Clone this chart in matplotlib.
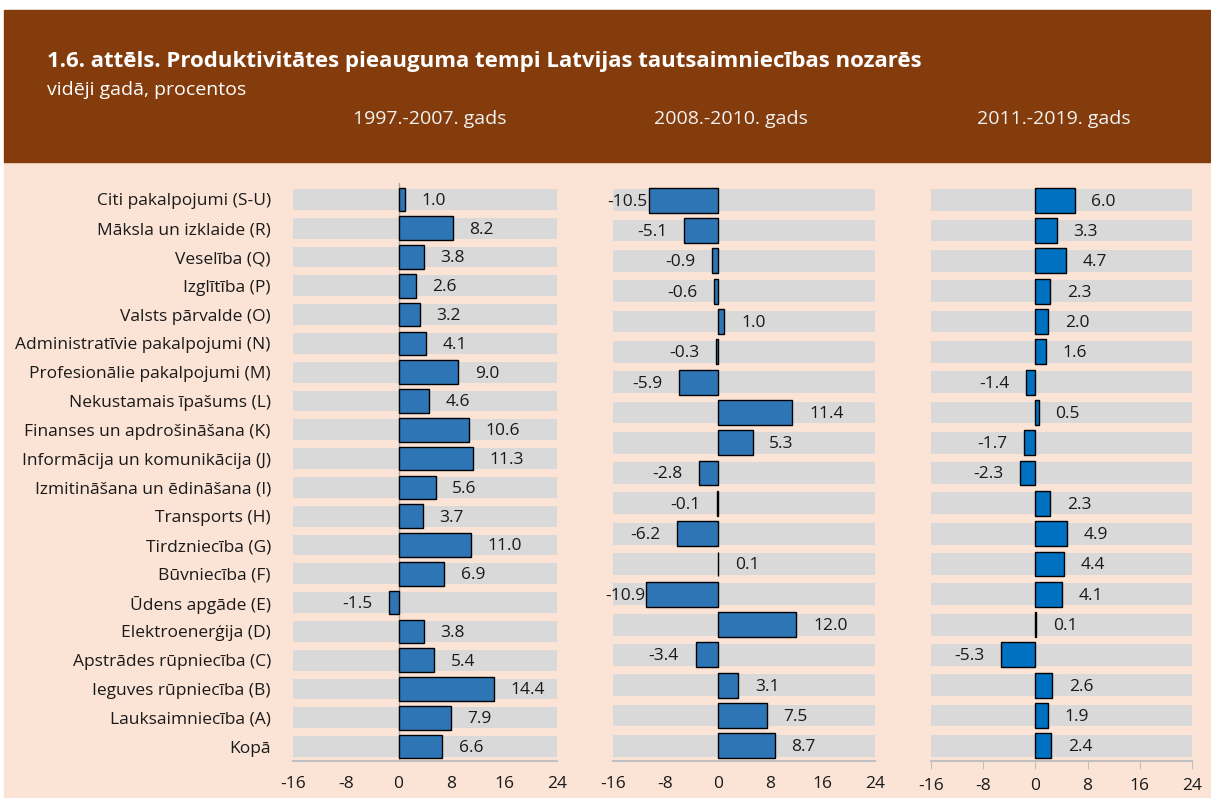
import matplotlib.pyplot as plt
from matplotlib.patches import Rectangle
import numpy as np

plt.rcParams['font.family'] = ['Open Sans', 'DejaVu Sans']

# categories, top to bottom
categories = ['Citi pakalpojumi (S-U)', 'Māksla un izklaide (R)', 'Veselība (Q)',
              'Izglītība (P)', 'Valsts pārvalde (O)', 'Administratīvie pakalpojumi (N)',
              'Profesionālie pakalpojumi (M)', 'Nekustamais īpašums (L)',
              'Finanses un apdrošināšana (K)', 'Informācija un komunikācija (J)',
              'Izmitināšana un ēdināšana (I)', 'Transports (H)', 'Tirdzniecība (G)',
              'Būvniecība (F)', 'Ūdens apgāde (E)', 'Elektroenerģija (D)',
              'Apstrādes rūpniecība (C)', 'Ieguves rūpniecība (B)',
              'Lauksaimniecība (A)', 'Kopā']

p1997 = [1.0, 8.2, 3.8, 2.6, 3.2, 4.1, 9.0, 4.6, 10.6, 11.3, 5.6, 3.7, 11.0, 6.9,
         -1.5, 3.8, 5.4, 14.4, 7.9, 6.6]
# the two later panels show only 19 rows in the original
p2008 = [-10.5, -5.1, -0.9, -0.6, 1.0, -0.3, -5.9, 11.4, 5.3, -2.8, -0.1, -6.2,
         0.1, -10.9, 12.0, -3.4, 3.1, 7.5, 8.7]
p2011 = [6.0, 3.3, 4.7, 2.3, 2.0, 1.6, -1.4, 0.5, -1.7, -2.3, 2.3, 4.9, 4.4, 4.1,
         0.1, -5.3, 2.6, 1.9, 2.4]

panel_titles = ['1997.-2007. gads', '2008.-2010. gads', '2011.-2019. gads']
xticks = [-16, -8, 0, 8, 16, 24]

W, H = 1211, 798
brown = '#843C0C'
peach = '#FBE3D6'
gray = '#D9D9D9'
txt = '#1a1a1a'

fig = plt.figure(figsize=(W / 100, H / 100), dpi=100)
fig.patch.set_facecolor('white')

def px(x0, y0, x1, y1):
    # pixel box (top-left origin) -> figure fraction
    return [x0 / W, 1 - y1 / H, (x1 - x0) / W, (y1 - y0) / H]

b = px(4, 162, W, H)
fig.patches.append(Rectangle((b[0], b[1]), b[2], b[3], transform=fig.transFigure,
                             color=peach, zorder=-10))
b = px(4, 10, W, 162)
fig.patches.append(Rectangle((b[0], b[1]), b[2], b[3], transform=fig.transFigure,
                             color=brown, zorder=-10))

fig.text(47 / W, 1 - 61 / H,
         '1.6. attēls. Produktivitātes pieauguma tempi Latvijas tautsaimniecības nozarēs',
         color='white', fontsize=16, fontweight='bold', va='center', ha='left')
fig.text(47 / W, 1 - 90 / H, 'vidēji gadā, procentos', color='white', fontsize=14,
         va='center', ha='left')

panels = [(293, 557, p1997, '#2E75B6'),
          (613, 875, p2008, '#2E75B6'),
          (931, 1192, p2011, '#0070C0')]
title_x = [430, 731, 1054]

for i, (x0, x1, vals, color) in enumerate(panels):
    ax = fig.add_axes(px(x0, 183, x1, 761))
    ax.set_facecolor('none')
    n = len(vals)
    y = np.arange(n)[::-1]
    ax.barh(y, 40, left=-16, height=0.72, color=gray, zorder=1)
    if i == 0:
        ax.axvline(0, color='#A6A6A6', lw=1, zorder=1.5)
    ax.barh(y, vals, height=0.82, color=color, edgecolor='black', lw=1, zorder=2)
    for yy, v in zip(y, vals):
        if v >= 0:
            off, ha = 12, 'left'
        else:
            # long negative labels are pulled in so they stay inside the panel
            off, ha = (-1 if v < -9 else -12), 'right'
        ax.annotate(f'{v:.1f}', (v, yy), xytext=(off, -1), textcoords='offset points',
                    ha=ha, va='center', fontsize=12.5, color=txt, zorder=3)
    ax.set_xlim(-16, 24)
    ax.set_ylim(-0.5, n - 1 + 0.57)
    ax.set_xticks(xticks)
    ax.set_xticklabels([str(t) for t in xticks], fontsize=12.5, color=txt)
    ax.tick_params(axis='x', length=6 if i == 2 else 0, color='#BFBFBF', pad=11 if i < 2 else 6)
    for s in ['top', 'right', 'left']:
        ax.spines[s].set_visible(False)
    ax.spines['bottom'].set_color('#BFBFBF')
    ax.spines['bottom'].set_linewidth(1.5)
    if i == 0:
        ax.set_yticks(y)
        ax.set_yticklabels(categories, fontsize=12.5, color=txt)
        ax.tick_params(axis='y', length=0, pad=16)
    else:
        ax.set_yticks([])
    fig.text(title_x[i] / W, 1 - 119 / H, panel_titles[i], color='#F2F2F2',
             fontsize=14, ha='center', va='center')

fig.savefig('out.png', dpi=100, facecolor=fig.get_facecolor())
